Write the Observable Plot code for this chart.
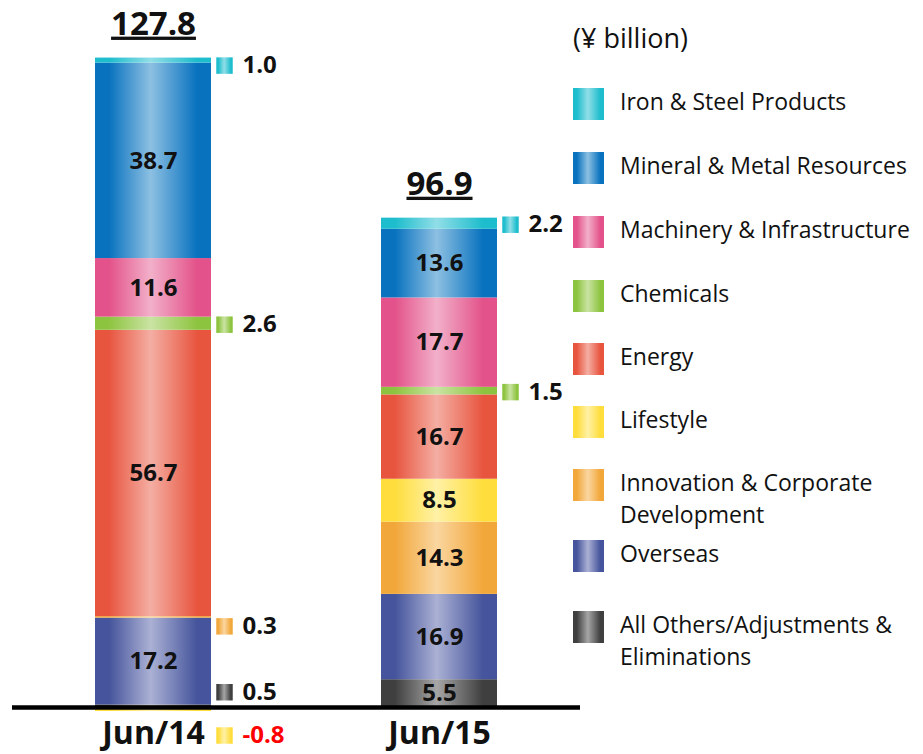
<!DOCTYPE html>
<html>
<head>
<meta charset="utf-8">
<script src="https://cdn.jsdelivr.net/npm/d3@7"></script>
<script src="https://cdn.jsdelivr.net/npm/@observablehq/plot@0.6"></script>
<style>
  body { margin: 0; background: #fff; font-family: "Open Sans", sans-serif; }
  #wrap { position: relative; width: 923px; height: 754px; overflow: hidden; }
  #wrap > svg { position: absolute; left: 0; top: 0; }
  .unit { position: absolute; left: 573px; top: 22px; font-size: 27px; line-height: 32px; color: #111; }
  .leg { position: absolute; left: 573px; display: flex; align-items: flex-start; }
  .sw { width: 31px; height: 32px; flex: none; }
  .lt { margin-left: 16px; margin-top: -3px; font-size: 23px; line-height: 32px; color: #111; white-space: pre; }
</style>
</head>
<body>
<div id="wrap"></div>
<script>
// ---- data ----
const periods = ["Jun/14", "Jun/15"];
const segments = [
  "All Others/Adjustments & Eliminations",
  "Overseas",
  "Innovation & Corporate Development",
  "Lifestyle",
  "Energy",
  "Chemicals",
  "Machinery & Infrastructure",
  "Mineral & Metal Resources",
  "Iron & Steel Products"
];
const jun14 = [0.5, 17.2, 0.3, -0.8, 56.7, 2.6, 11.6, 38.7, 1.0];
const jun15 = [5.5, 16.9, 14.3, 8.5, 16.7, 1.5, 17.7, 13.6, 2.2];
const totals = [127.8, 96.9];
const unitLabel = "(¥ billion)";
const legendLabels = [
  "All Others/Adjustments &\nEliminations",
  "Overseas",
  "Innovation & Corporate\nDevelopment",
  "Lifestyle",
  "Energy",
  "Chemicals",
  "Machinery & Infrastructure",
  "Mineral & Metal Resources",
  "Iron & Steel Products"
];

// ---- styles / layout ----
const gradEdge  = ["#3f3f3f", "#45549c", "#f2a73a", "#fedd3c", "#e8553f", "#8dc43f", "#e3528a", "#0872bf", "#1dbdcd"];
const gradLight = ["#a6a6a6", "#abb1d4", "#fad6a0", "#fff1a6", "#f4aea3", "#cae3a3", "#f2b0c9", "#8dc0e2", "#91dee7"];
const legendTops = [611, 540, 469, 406, 343, 280, 216, 152, 88]; // per segment
const sideNudge = { "Jun/14|8": 5, "Jun/14|5": 1, "Jun/14|2": 9, "Jun/14|0": -14, "Jun/14|3": 26, "Jun/15|8": 1, "Jun/15|5": 1 };

const rows = [];
periods.forEach((p, pi) => {
  const vals = pi === 0 ? jun14 : jun15;
  segments.forEach((s, si) => rows.push({ period: p, segment: s, si, value: vals[si] }));
});

// stacked positions (same rule as Plot's stackY: positives up, negatives down)
const posTop = {};
const stacked = [];
periods.forEach(p => {
  let pos = 0, neg = 0;
  rows.filter(r => r.period === p).forEach(r => {
    let y1, y2;
    if (r.value >= 0) { y1 = pos; y2 = pos + r.value; pos = y2; }
    else { y1 = neg; y2 = neg + r.value; neg = y2; }
    stacked.push({ ...r, mid: (y1 + y2) / 2 });
  });
  posTop[p] = pos;
});

const gradIds = segments.map((s, i) => `grad${i}`);
const font = "Open Sans";
const pxPerUnit = 5.05, zeroY = 707, H = 754;
const totalText = totals.map(t => t.toFixed(1));

const marks = [
  Plot.barY(rows, Plot.stackY({ x: "period", y: "value", fill: "segment", insetLeft: 0, insetRight: 0 })),
  Plot.ruleY([0], { stroke: "#000", strokeWidth: 4.5 }),
  Plot.text(rows, Plot.stackY({
    x: "period", y: "value", z: "segment",
    text: d => (d.value >= 5 ? d.value.toFixed(1) : ""),
    fontSize: 24, fontWeight: 700, fill: "#111", lineAnchor: "middle"
  })),
  Plot.text(periods.map((p, i) => ({ period: p, total: totals[i], top: posTop[p] })), {
    x: "period", y: "top", text: d => d.total.toFixed(1), dy: -34,
    fontSize: 33, fontWeight: 700, fill: "#111", lineAnchor: "middle"
  }),
  Plot.text(periods, { x: d => d, text: d => d, frameAnchor: "bottom", dy: -21, fontSize: 32, fontWeight: 700, fill: "#111", lineAnchor: "middle" })
];

stacked.filter(d => d.value < 5).forEach(d => {
  const dy = sideNudge[`${d.period}|${d.si}`] || 0;
  marks.push(Plot.dot([d], { x: "period", y: "mid", symbol: "square", r: 9.3, fill: "segment", dx: 71, dy }));
  marks.push(Plot.text([d], {
    x: "period", y: "mid", text: v => v.value.toFixed(1), dx: 89, dy, textAnchor: "start", lineAnchor: "middle",
    fontSize: 24, fontWeight: 700, fill: d.value < 0 ? "#ff0000" : "#111"
  }));
});

const chart = Plot.plot({
  width: 923, height: H,
  marginLeft: 12, marginRight: 343, marginTop: 0, marginBottom: 0,
  style: { fontFamily: font, background: "transparent", overflow: "visible" },
  x: { type: "band", domain: periods, paddingInner: 0.594, paddingOuter: 0.29, axis: null },
  y: { domain: [-(H - zeroY) / pxPerUnit, zeroY / pxPerUnit], axis: null },
  color: { domain: segments, range: gradIds.map(id => `url(#${id})`) },
  marks
});

// gradient definitions
const defs = d3.select(chart).insert("defs", ":first-child");
segments.forEach((s, i) => {
  const g = defs.append("linearGradient").attr("id", gradIds[i]).attr("x1", "0").attr("x2", "1").attr("y1", "0").attr("y2", "0");
  [[0, gradEdge[i]], [0.12, gradEdge[i]], [0.48, gradLight[i]], [0.88, gradEdge[i]], [1, gradEdge[i]]]
    .forEach(([o, c]) => g.append("stop").attr("offset", o).attr("stop-color", c));
});
// underline the totals
d3.select(chart).selectAll("text").filter(function () {
  return this.getAttribute("font-size") === "33" || (totalText.includes(this.textContent) && this.closest("g") && this.closest("g").getAttribute("font-size") === "33");
}).style("text-decoration", "underline");

const wrap = document.getElementById("wrap");
wrap.appendChild(chart);

// legend
const unit = document.createElement("div");
unit.className = "unit";
unit.textContent = unitLabel;
wrap.appendChild(unit);
segments.forEach((s, i) => {
  const item = document.createElement("div");
  item.className = "leg";
  item.style.top = legendTops[i] + "px";
  const sw = document.createElement("div");
  sw.className = "sw";
  sw.style.background = `linear-gradient(to right, ${gradEdge[i]} 0%, ${gradEdge[i]} 12%, ${gradLight[i]} 48%, ${gradEdge[i]} 88%, ${gradEdge[i]} 100%)`;
  const t = document.createElement("div");
  t.className = "lt";
  t.textContent = legendLabels[i];
  item.appendChild(sw);
  item.appendChild(t);
  wrap.appendChild(item);
});
</script>
</body>
</html>
